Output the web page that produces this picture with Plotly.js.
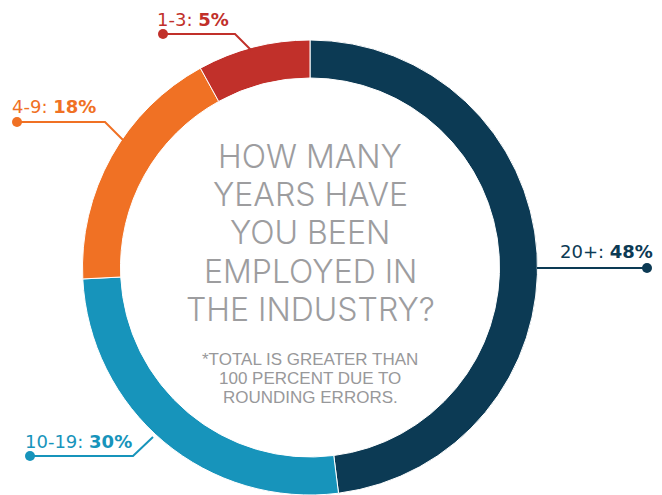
<!DOCTYPE html>
<html>
<head>
<meta charset="utf-8">
<script src="https://cdn.plot.ly/plotly-3.0.1.min.js"></script>
<style>html,body{margin:0;padding:0;background:#fff;}#chart{width:662px;height:495px;}</style>
</head>
<body>
<div id="chart"></div>
<script>
// Data
const categories = ['20+', '10-19', '4-9', '1-3'];
const percents = [48, 30, 18, 5];            // values printed on the labels
const sliceShares = [48, 26.2, 17.8, 8];     // arc sizes as drawn in the picture
const colors = ['#0c3a54', '#1794bb', '#f07124', '#c1302a'];
const titleLines = ['HOW MANY', 'YEARS HAVE', 'YOU BEEN', 'EMPLOYED IN', 'THE INDUSTRY?'];
const noteLines = ['*TOTAL IS GREATER THAN', '100 PERCENT DUE TO', 'ROUNDING ERRORS.'];

const W = 662, H = 495;
const px = x => x / W;
const py = y => 1 - y / H;

// label layout (pixel positions of callouts)
const callouts = {
  '20+':   {text: [558, 252], path: [[537, 268], [647, 268]], dot: [647, 268]},
  '10-19': {text: [23, 441],  path: [[153, 437], [133, 456], [30, 456]], dot: [30, 456]},
  '4-9':   {text: [10, 106],  path: [[123, 140], [105, 122], [17, 122]], dot: [17, 122]},
  '1-3':   {text: [155, 19],  path: [[252, 51], [235, 34], [163, 34]], dot: [163, 34]}
};

const shapes = [];
const annotations = [];
categories.forEach((c, i) => {
  const co = callouts[c];
  const d = co.path.map((p, k) => (k === 0 ? 'M' : 'L') + px(p[0]) + ',' + py(p[1])).join(' ');
  shapes.push({type: 'path', xref: 'paper', yref: 'paper', path: d, line: {color: colors[i], width: 2}});
  shapes.push({type: 'circle', xref: 'paper', yref: 'paper', xsizemode: 'pixel', ysizemode: 'pixel',
    xanchor: px(co.dot[0]), yanchor: py(co.dot[1]), x0: -5, x1: 5, y0: -5, y1: 5,
    fillcolor: colors[i], line: {color: colors[i], width: 0}});
  annotations.push({xref: 'paper', yref: 'paper', x: px(co.text[0]), y: py(co.text[1]),
    xanchor: 'left', yanchor: 'middle', showarrow: false,
    text: c + ': <b>' + percents[i] + '%</b>',
    font: {family: 'DejaVu Sans, sans-serif', size: 18, color: colors[i]}});
});

const titleY = [157, 195.5, 234, 272, 310];
titleLines.forEach((t, i) => {
  annotations.push({xref: 'paper', yref: 'paper', x: px(310), y: py(titleY[i] - 1),
    xanchor: 'center', yanchor: 'middle', showarrow: false, text: t,
    font: {family: 'Inter, Roboto, sans-serif', weight: 300, size: 32, color: '#9d9d9f'}});
});
const noteY = [358, 377, 396];
noteLines.forEach((t, i) => {
  annotations.push({xref: 'paper', yref: 'paper', x: px(310), y: py(noteY[i] + 1),
    xanchor: 'center', yanchor: 'middle', showarrow: false, text: t,
    font: {family: 'Liberation Sans, Arial, sans-serif', size: 17, color: '#98989a'}});
});

const trace = {
  type: 'pie',
  labels: categories,
  values: sliceShares,
  sort: false,
  direction: 'clockwise',
  rotation: 0,
  hole: 0.833,
  textinfo: 'none',
  hoverinfo: 'none',
  showlegend: false,
  marker: {colors: colors, line: {color: '#ffffff', width: 1}},
  domain: {x: [px(82), px(538)], y: [0, py(40)]}
};

const layout = {
  width: W, height: H,
  margin: {l: 0, r: 0, t: 0, b: 0},
  paper_bgcolor: '#ffffff',
  plot_bgcolor: '#ffffff',
  showlegend: false,
  shapes: shapes,
  annotations: annotations
};

Plotly.newPlot('chart', [trace], layout, {displayModeBar: false, staticPlot: true});
</script>
</body>
</html>
